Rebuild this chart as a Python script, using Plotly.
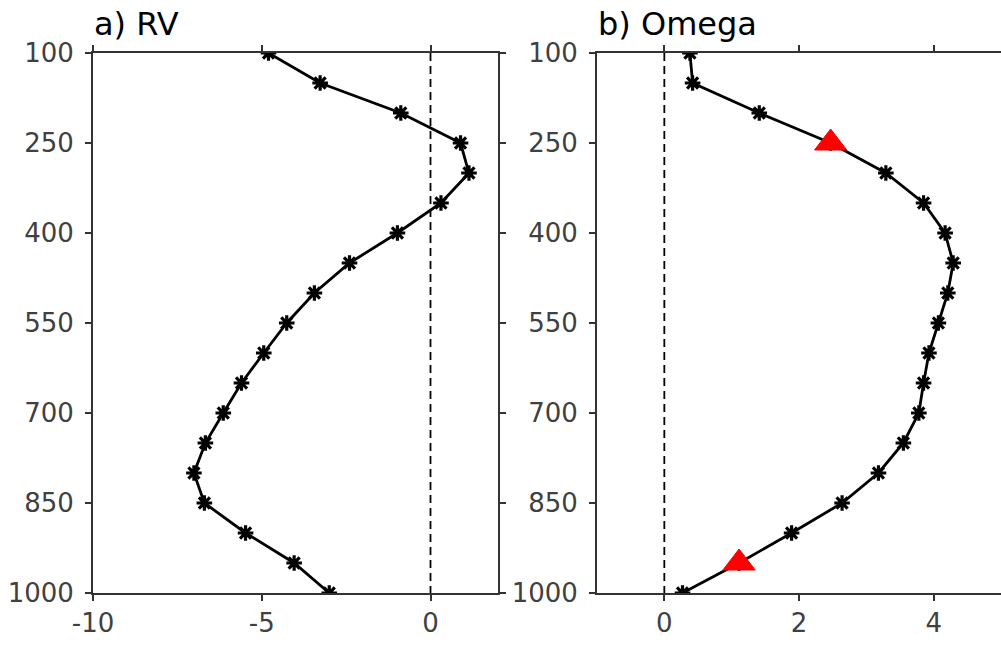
import plotly.graph_objects as go

# Pressure levels (hPa)
levels = [100, 150, 200, 250, 300, 350, 400, 450, 500, 550,
          600, 650, 700, 750, 800, 850, 900, 950, 1000]

# a) RV profile
rv = [-4.80, -3.27, -0.88, 0.89, 1.14, 0.31, -0.98, -2.40, -3.44, -4.26,
      -4.94, -5.60, -6.14, -6.67, -7.01, -6.70, -5.48, -4.04, -3.00]

# b) Omega profile
omega = [0.38, 0.42, 1.41, 2.47, 3.29, 3.85, 4.17, 4.29, 4.21, 4.07,
         3.93, 3.85, 3.78, 3.55, 3.18, 2.64, 1.89, 1.11, 0.27]

# Levels marked with red triangles in panel b
sig_levels = [250, 950]

y_ticks = [100, 250, 400, 550, 700, 850, 1000]
x1_ticks = [-10, -5, 0]
x1_labels = ["-10", "-5", "0"]
x2_ticks = [0, 2, 4]
x2_labels = ["0", "2", "4"]
titles = ["a) RV", "b) Omega"]

FONT = "DejaVu Sans, sans-serif"
AX = "#333333"
W, H = 1001, 648

fig = go.Figure()

def add_profile(xs, xa, ya, sig=None):
    fig.add_trace(go.Scatter(
        x=[0, 0], y=[100, 1000], mode="lines",
        line=dict(color="black", width=1.8, dash="8px,5px"),
        xaxis=xa, yaxis=ya, showlegend=False, hoverinfo="skip"))
    fig.add_trace(go.Scatter(
        x=xs, y=levels, mode="lines+markers",
        line=dict(color="black", width=2.8),
        marker=dict(symbol="asterisk-open", size=13,
                    line=dict(color="black", width=3.2)),
        xaxis=xa, yaxis=ya, showlegend=False))
    if sig:
        sx = [xs[levels.index(p)] for p in sig]
        fig.add_trace(go.Scatter(
            x=sx, y=sig, mode="markers",
            marker=dict(symbol="triangle-up", size=28, color="red",
                        line=dict(color="red", width=1)),
            xaxis=xa, yaxis=ya, showlegend=False))

add_profile(rv, "x", "y")
add_profile(omega, "x2", "y2", sig_levels)

ydom = [1 - 593 / H, 1 - 53 / H]
common_axis = dict(
    showline=True, linecolor=AX, linewidth=2,
    ticks="outside", ticklen=6, tickwidth=2, tickcolor=AX,
    showgrid=False, zeroline=False, automargin=False,
    tickfont=dict(family=FONT, size=26, color="#404040"),
)

fig.update_layout(
    width=W, height=H,
    margin=dict(l=0, r=0, t=0, b=0),
    plot_bgcolor="white", paper_bgcolor="white",
    xaxis=dict(domain=[93 / W, 498 / W], range=[-10, 2], tickvals=x1_ticks,
               ticktext=x1_labels, mirror="ticks", anchor="y", **common_axis),
    yaxis=dict(domain=ydom, range=[1000, 100], tickvals=y_ticks,
               mirror="ticks", anchor="x", ticklabelstandoff=6, **common_axis),
    xaxis2=dict(domain=[597 / W, 1.0], range=[-1, 5], tickvals=x2_ticks,
                ticktext=x2_labels, mirror="ticks", anchor="y2", **common_axis),
    yaxis2=dict(domain=ydom, range=[1000, 100], tickvals=y_ticks,
                mirror=False, anchor="x2", ticklabelstandoff=6, **common_axis),
    annotations=[
        dict(text=titles[0], xref="paper", yref="paper", x=92 / W, y=1 - 45 / H,
             xanchor="left", yanchor="bottom", showarrow=False,
             font=dict(family=FONT, size=32, color="black")),
        dict(text=titles[1], xref="paper", yref="paper", x=596 / W, y=1 - 45 / H,
             xanchor="left", yanchor="bottom", showarrow=False,
             font=dict(family=FONT, size=32, color="black")),
    ],
)

fig.write_html(
    "out.html",
    config={"displayModeBar": False},
    post_script="document.body.style.margin='0';"
                "document.body.style.overflow='hidden';"
                "document.documentElement.style.overflow='hidden';",
)
